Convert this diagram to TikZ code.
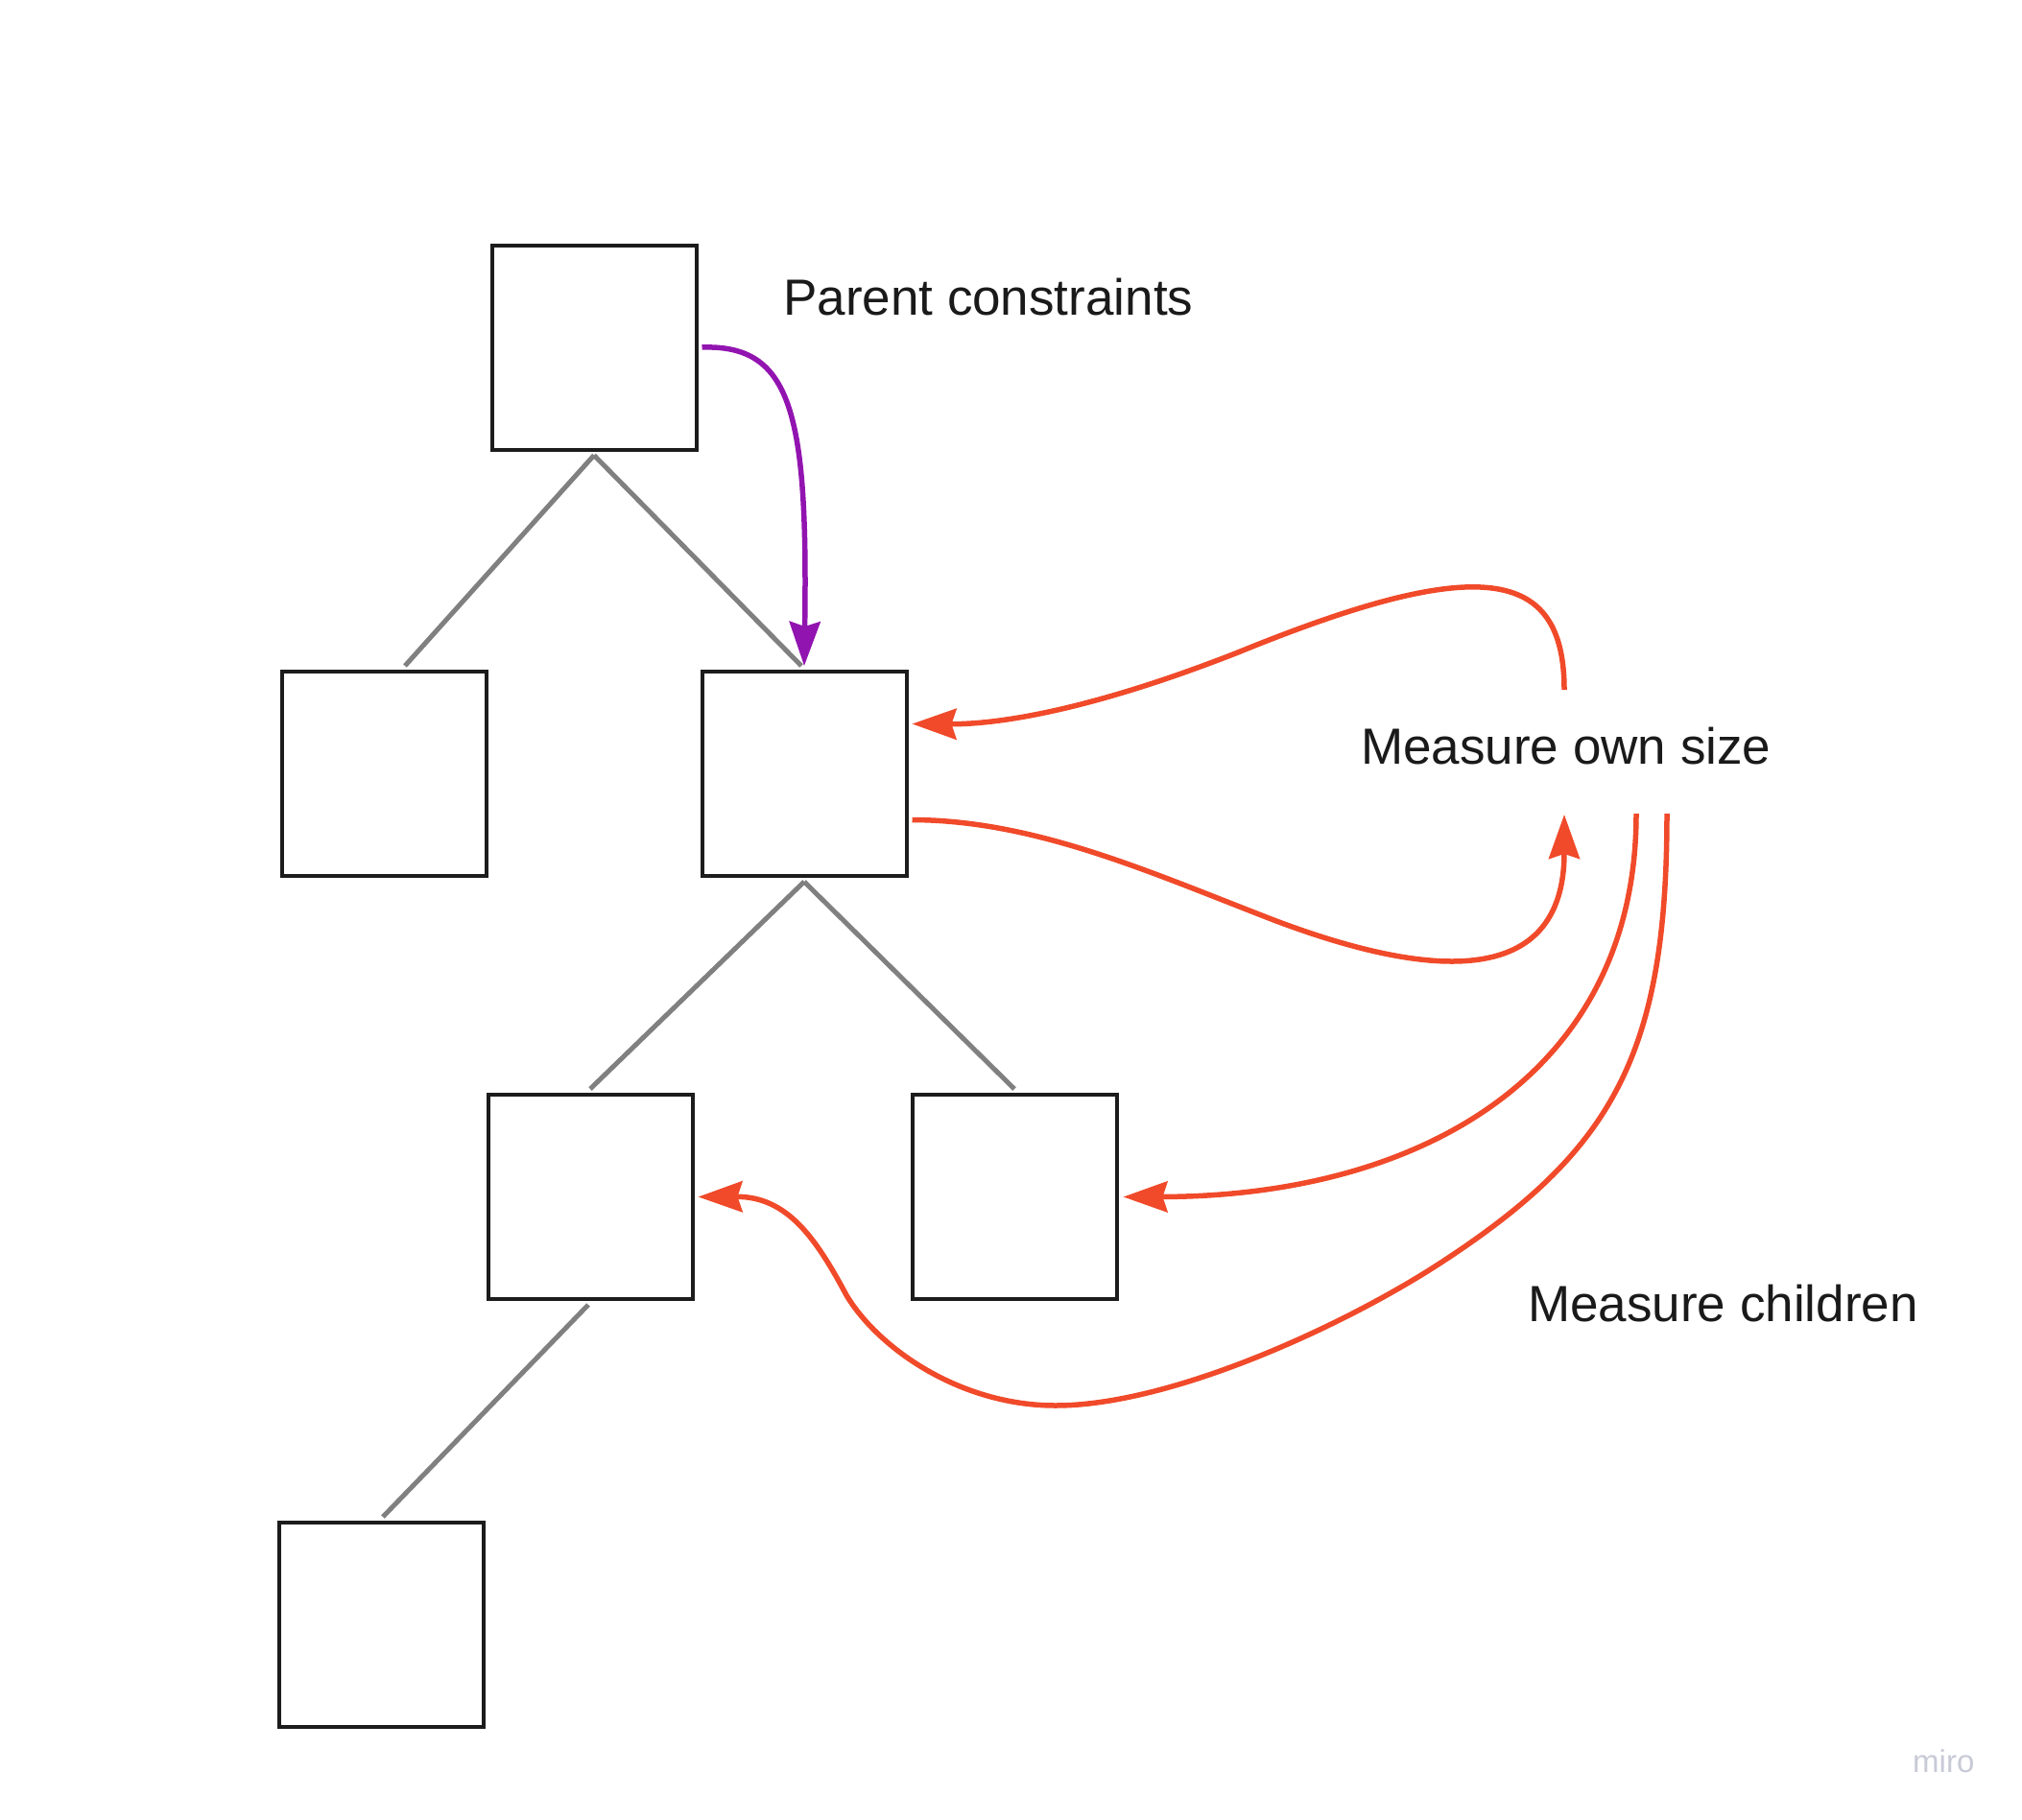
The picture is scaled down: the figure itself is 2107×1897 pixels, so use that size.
\documentclass[tikz,border=0pt]{standalone}
\usepackage{fontspec}
\setmainfont{Liberation Sans}
\usetikzlibrary{arrows.meta,calc}
\definecolor{boxc}{HTML}{1C1C1C}
\definecolor{linkgray}{HTML}{808080}
\definecolor{redc}{HTML}{F04A2A}
\definecolor{purplec}{HTML}{9214B0}
\definecolor{txtc}{HTML}{1A1A1A}
\definecolor{miroc}{HTML}{C8CAD6}
\begin{document}
\begin{tikzpicture}[x=1pt,y=-1pt,
  box/.style={draw=boxc,line width=4pt,minimum size=213pt,inner sep=0pt,fill=white},
  link/.style={draw=linkgray,line width=5pt},
  redarr/.style={draw=redc,line width=5.5pt,-{Stealth[length=46pt,width=32pt,inset=5pt]}},
  purparr/.style={draw=purplec,line width=5.5pt,-{Stealth[length=46pt,width=32pt,inset=5pt]}},
  label/.style={text=txtc,font=\fontsize{53}{60}\selectfont,inner sep=0pt,anchor=west}]
\useasboundingbox (0,0) rectangle (2107,1897);
\fill[white] (0,0) rectangle (2107,1897);
% boxes
\node[box] (top) at (619,362) {};
\node[box] (ml) at (400,806.5) {};
\node[box] (mr) at (838,806.5) {};
\node[box] (ll) at (615,1247.5) {};
\node[box] (lr) at (1057,1247.5) {};
\node[box] (bot) at (397,1693.5) {};
% tree links
\draw[link] ($(top.south)+(0,4)$) -- ($(ml.north)+(22,-4)$);
\draw[link] ($(top.south)+(0,4)$) -- ($(mr.north)+(-3,-4)$);
\draw[link] ($(mr.south)+(0,4)$) -- ($(ll.north)+(0,-4)$);
\draw[link] ($(mr.south)+(0,4)$) -- ($(lr.north)+(0,-4)$);
\draw[link] ($(ll.south)+(-2,4)$) -- ($(bot.north)+(2,-4)$);
% labels
\node[label] (pc) at (816,310) {Parent constraints};
\node[label] (mos) at (1418,778) {Measure own size};
\node[label] (mc) at (1592,1359) {Measure children};
\node[text=miroc,font=\fontsize{33}{36}\selectfont,inner sep=0pt,anchor=west] (miro) at (1993,1836) {miro};
% free ends near the labels
\coordinate (s1) at (1630,719);
\coordinate (e2) at (1630,849);
\coordinate (s3) at (1705,848);
\coordinate (s4) at (1737,848);
% purple arrow
\draw[purparr] ($(top.east)+(4,0)$) .. controls (825,359) and (842,430) .. ($(mr.north)+(0,-4)$);
% red arrows
\draw[redarr] (s1) .. controls (1630,590) and (1540,578) .. (1290,680) .. controls (1150,735) and (1050,755) .. ($(mr.east)+(4,-52)$);
\draw[redarr] ($(mr.east)+(4,48)$) .. controls (1080,855) and (1200,910) .. (1330,960) .. controls (1450,1005) and (1630,1050) .. (e2);
\draw[redarr] (s3) .. controls (1705,1120) and (1480,1247) .. ($(lr.east)+(5,0)$);
\draw[redarr] (s4) .. controls (1737,1100) and (1680,1200) .. (1500,1317) .. controls (1400,1382) and (1220,1465) .. (1100,1465) .. controls (1000,1465) and (915,1405) .. (882,1350) .. controls (850,1290) and (820,1247) .. ($(ll.east)+(4,0)$);
\end{tikzpicture}
\end{document}
